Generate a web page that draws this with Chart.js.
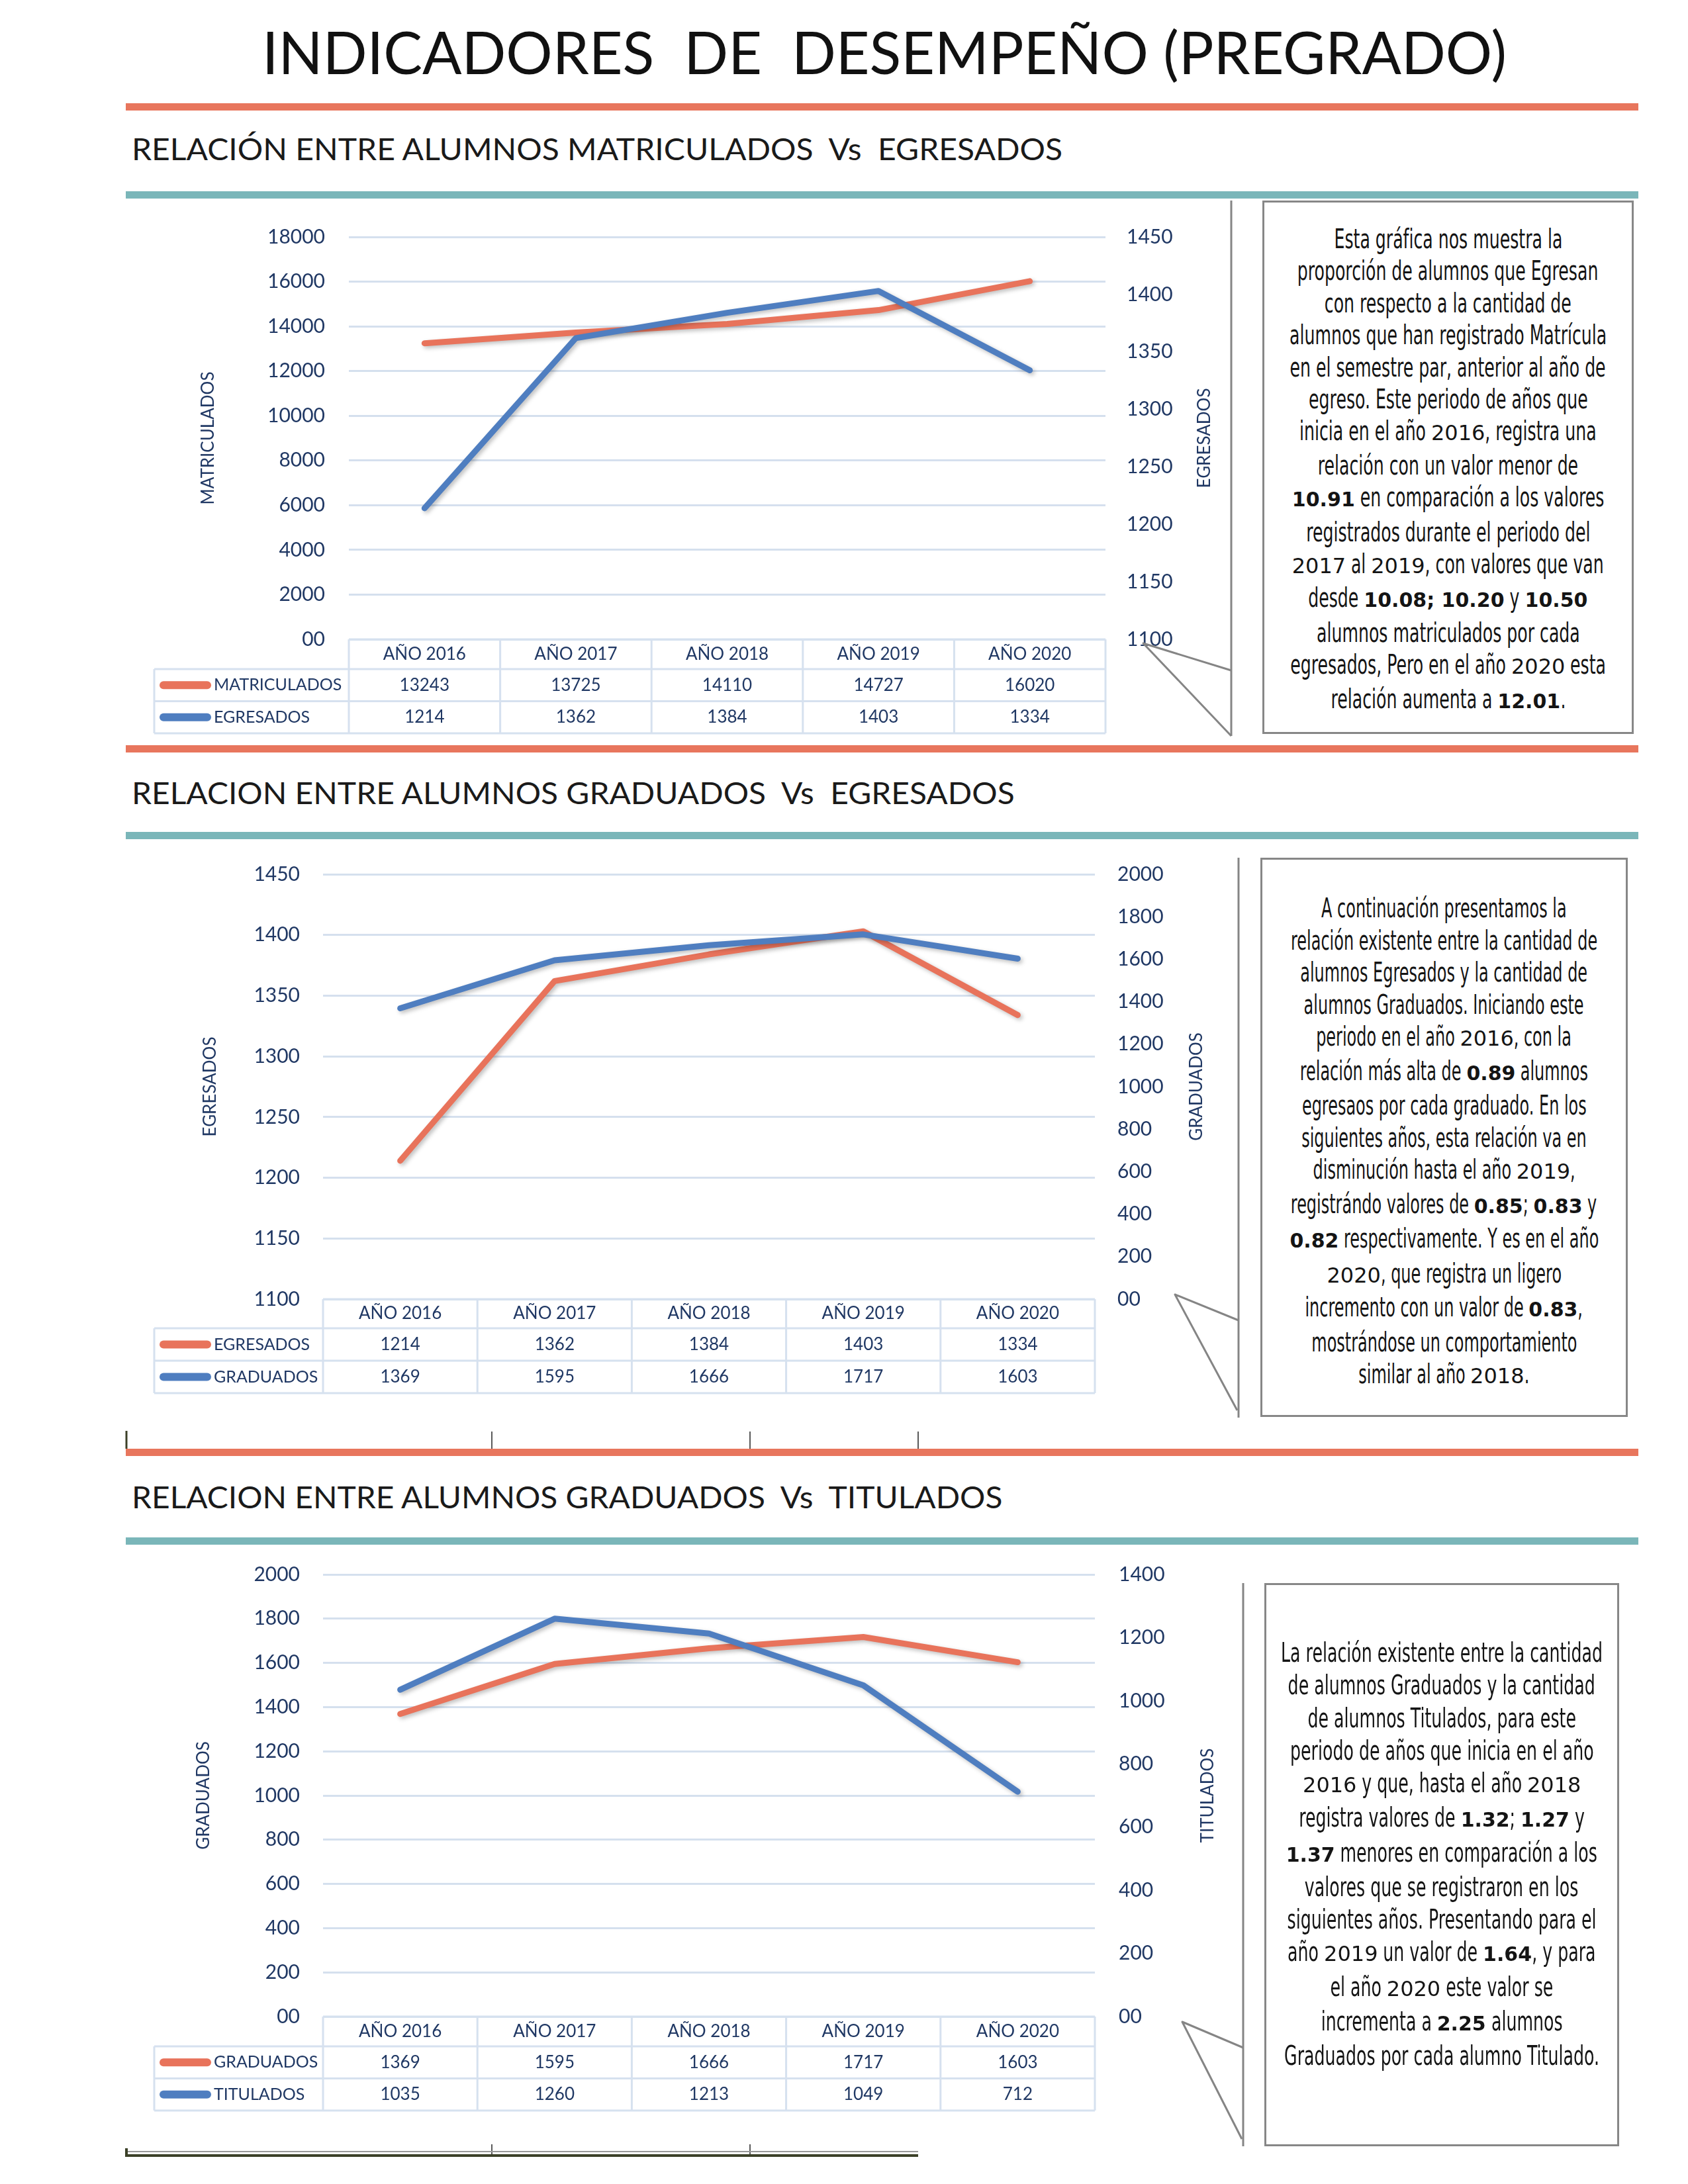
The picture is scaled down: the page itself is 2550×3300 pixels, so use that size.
<!DOCTYPE html>
<html lang="es">
<head>
<meta charset="utf-8">
<title>Indicadores de desempeño (pregrado)</title>
<script src="https://cdn.jsdelivr.net/npm/chart.js@4.4.1/dist/chart.umd.min.js"></script>
<style>
html, body { margin: 0; padding: 0; background: #fff; }
#page { position: relative; width: 2550px; height: 3300px; overflow: hidden; font-family: Lato, "Open Sans", sans-serif; }
.title, .head { position: absolute; white-space: pre; transform-origin: 0 0; }
.title { left: 396px; top: 33px; font-size: 89px; line-height: 89px; color: #111; }
.head { left: 199px; font-size: 47px; line-height: 47px; color: #1a1a1a; }
.bar { position: absolute; left: 190px; width: 2285px; height: 11px; }
.orange { background: #e8765d; }
.teal { background: #7ab6b9; }
canvas { position: absolute; left: 200px; }
.box { position: absolute; border: 3px solid #878787; box-sizing: border-box; background: #fff; }
.txt { position: absolute; left: -400px; right: -400px; text-align: center; font-family: "DejaVu Sans", sans-serif; font-size: 40px; color: #141414; }
.ln { display: inline-block; white-space: pre; transform-origin: 50% 50%; }
.ln b, .ln i { display: inline-block; font-style: normal; }
.ln b { font-weight: bold; font-size: 30px; }
.ln i { font-size: 32px; }
svg { position: absolute; left: 0; top: 0; }
</style>
</head>
<body>
<div id="page">
  <div class="title" data-w="1880">INDICADORES  DE  DESEMPEÑO (PREGRADO)</div>
  <div class="bar orange" style="top:156px"></div>
  <div class="head" style="top:201px" data-w="1406">RELACIÓN ENTRE ALUMNOS MATRICULADOS  Vs  EGRESADOS</div>
  <div class="bar teal" style="top:289px"></div>

  <div class="bar orange" style="top:1126px"></div>
  <div class="head" style="top:1174px" data-w="1334">RELACION ENTRE ALUMNOS GRADUADOS  Vs  EGRESADOS</div>
  <div class="bar teal" style="top:1257px"></div>

  <div class="bar orange" style="top:2189px"></div>
  <div class="head" style="top:2238px" data-w="1315">RELACION ENTRE ALUMNOS GRADUADOS  Vs  TITULADOS</div>
  <div class="bar teal" style="top:2323px"></div>

  <canvas id="chart1"></canvas>
  <canvas id="chart2"></canvas>
  <canvas id="chart3"></canvas>

  <svg width="2550" height="3300">
    <g stroke="#858585" stroke-width="3" fill="none" stroke-linejoin="round">
      <line x1="1860" y1="303" x2="1860" y2="1112"/>
      <polyline points="1860,1013 1727,972 1860,1112"/>
      <line x1="1871" y1="1296" x2="1871" y2="2142"/>
      <polyline points="1871,1995 1775,1956 1869,2131"/>
      <line x1="1878" y1="2392" x2="1878" y2="3243"/>
      <polyline points="1878,3094 1786,3055 1876,3232"/>
    </g>
    <g stroke="#222" stroke-width="1.5">
      <line x1="743" y1="2163" x2="743" y2="2189"/>
      <line x1="1133" y1="2163" x2="1133" y2="2189"/>
      <line x1="1387" y1="2163" x2="1387" y2="2189"/>
      <line x1="743" y1="3240" x2="743" y2="3256"/>
      <line x1="1133" y1="3240" x2="1133" y2="3256"/>
    </g>
    <line x1="191" y1="2162" x2="191" y2="2189" stroke="#3c4128" stroke-width="3"/>
    <line x1="190" y1="3251" x2="1387" y2="3251" stroke="#999" stroke-width="2"/>
    <line x1="190" y1="3257" x2="1387" y2="3257" stroke="#3c4128" stroke-width="4"/>
    <line x1="191" y1="3246" x2="191" y2="3259" stroke="#3c4128" stroke-width="4"/>
  </svg>

  <div class="box" style="left:1907px;top:303px;width:561px;height:806px">
    <div class="txt" style="top:31px;line-height:48.4px">
      <div><span class="ln">Esta gráfica nos muestra la</span></div>
      <div><span class="ln">proporción de alumnos que Egresan</span></div>
      <div><span class="ln">con respecto a la cantidad de</span></div>
      <div><span class="ln" data-w="479">alumnos que han registrado Matrícula</span></div>
      <div><span class="ln">en el semestre par, anterior al año de</span></div>
      <div><span class="ln">egreso. Este periodo de años que</span></div>
      <div><span class="ln">inicia en el año <i>2016</i>, registra una</span></div>
      <div><span class="ln">relación con un valor menor de</span></div>
      <div><span class="ln"><b>10.91</b> en comparación a los valores</span></div>
      <div><span class="ln">registrados durante el periodo del</span></div>
      <div><span class="ln"><i>2017</i> al <i>2019</i>, con valores que van</span></div>
      <div><span class="ln">desde <b>10.08; 10.20</b> y <b>10.50</b></span></div>
      <div><span class="ln">alumnos matriculados por cada</span></div>
      <div><span class="ln">egresados, Pero en el año <i>2020</i> esta</span></div>
      <div><span class="ln">relación aumenta a <b>12.01</b>.</span></div>
    </div>
  </div>

  <div class="box" style="left:1904px;top:1296px;width:555px;height:845px">
    <div class="txt" style="top:49px;line-height:48.5px">
      <div><span class="ln">A continuación presentamos la</span></div>
      <div><span class="ln" data-w="463">relación existente entre la cantidad de</span></div>
      <div><span class="ln">alumnos Egresados y la cantidad de</span></div>
      <div><span class="ln">alumnos Graduados. Iniciando este</span></div>
      <div><span class="ln">periodo en el año <i>2016</i>, con la</span></div>
      <div><span class="ln">relación más alta de <b>0.89</b> alumnos</span></div>
      <div><span class="ln">egresaos por cada graduado. En los</span></div>
      <div><span class="ln">siguientes años, esta relación va en</span></div>
      <div><span class="ln">disminución hasta el año <i>2019</i>,</span></div>
      <div><span class="ln">registrándo valores de <b>0.85</b>; <b>0.83</b> y</span></div>
      <div><span class="ln"><b>0.82</b> respectivamente. Y es en el año</span></div>
      <div><span class="ln"><i>2020</i>, que registra un ligero</span></div>
      <div><span class="ln">incremento con un valor de <b>0.83</b>,</span></div>
      <div><span class="ln">mostrándose un comportamiento</span></div>
      <div><span class="ln">similar al año <i>2018</i>.</span></div>
    </div>
  </div>

  <div class="box" style="left:1910px;top:2392px;width:536px;height:851px">
    <div class="txt" style="top:78px;line-height:49.25px">
      <div><span class="ln" data-w="486">La relación existente entre la cantidad</span></div>
      <div><span class="ln">de alumnos Graduados y la cantidad</span></div>
      <div><span class="ln">de alumnos Titulados, para este</span></div>
      <div><span class="ln">periodo de años que inicia en el año</span></div>
      <div><span class="ln"><i>2016</i> y que, hasta el año <i>2018</i></span></div>
      <div><span class="ln">registra valores de <b>1.32</b>; <b>1.27</b> y</span></div>
      <div><span class="ln"><b>1.37</b> menores en comparación a los</span></div>
      <div><span class="ln">valores que se registraron en los</span></div>
      <div><span class="ln">siguientes años. Presentando para el</span></div>
      <div><span class="ln">año <i>2019</i> un valor de <b>1.64</b>, y para</span></div>
      <div><span class="ln">el año <i>2020</i> este valor se</span></div>
      <div><span class="ln">incrementa a <b>2.25</b> alumnos</span></div>
      <div><span class="ln">Graduados por cada alumno Titulado.</span></div>
    </div>
  </div>
</div>

<script>
// datos
const years = ["AÑO 2016", "AÑO 2017", "AÑO 2018", "AÑO 2019", "AÑO 2020"];
const matriculados = [13243, 13725, 14110, 14727, 16020];
const egresados = [1214, 1362, 1384, 1403, 1334];
const graduados = [1369, 1595, 1666, 1717, 1603];
const titulados = [1035, 1260, 1213, 1049, 712];

// rangos de ejes [min, max, paso]
const axMatriculados = [0, 18000, 2000];
const axEgresados = [1100, 1450, 50];
const axGraduados = [0, 2000, 200];
const axTitulados = [0, 1400, 200];

const ORANGE = "#e8735b";
const BLUE = "#4f7ec0";
const NAVY = "#203864";
const GRID = "#d5e0ee";
const TOP_PAD = 70; // espacio sobre el área del gráfico dentro del canvas

// sombra suave de las líneas
const shadowPlugin = {
  id: "lineShadow",
  beforeDatasetDraw(chart) {
    const c = chart.ctx;
    c.save();
    c.shadowColor = "rgba(0,0,0,0.25)";
    c.shadowBlur = 6;
    c.shadowOffsetX = 3;
    c.shadowOffsetY = 3;
  },
  afterDatasetDraw(chart) { chart.ctx.restore(); }
};

// tabla de datos bajo el gráfico + título del eje derecho
const tablePlugin = {
  id: "dataTable",
  afterDraw(chart, args, o) {
    const { ctx, chartArea: a } = chart;
    const x = chart.scales.x;
    const half = (x.getPixelForValue(1) - x.getPixelForValue(0)) / 2;
    const sets = chart.data.datasets;
    const y0 = a.bottom, y1 = y0 + o.headerH, yEnd = y1 + o.rowH * sets.length;
    ctx.save();
    ctx.strokeStyle = "#d6e1ef";
    ctx.lineWidth = 3;
    ctx.beginPath();
    ctx.moveTo(a.left, y0); ctx.lineTo(a.right, y0);
    for (let r = 0; r <= sets.length; r++) {
      ctx.moveTo(o.left, y1 + r * o.rowH); ctx.lineTo(a.right, y1 + r * o.rowH);
    }
    ctx.moveTo(o.left, y1); ctx.lineTo(o.left, yEnd);
    chart.data.labels.forEach((l, i) => {
      const e = x.getPixelForValue(i) - half;
      ctx.moveTo(e, y0); ctx.lineTo(e, yEnd);
    });
    const last = x.getPixelForValue(chart.data.labels.length - 1) + half;
    ctx.moveTo(last, y0); ctx.lineTo(last, yEnd);
    ctx.stroke();

    ctx.fillStyle = NAVY;
    ctx.textBaseline = "middle";
    ctx.textAlign = "center";
    ctx.font = "26px Lato";
    chart.data.labels.forEach((l, i) => {
      ctx.fillText(l, x.getPixelForValue(i), (y0 + y1) / 2);
    });
    sets.forEach((ds, r) => {
      const cy = y1 + o.rowH * (r + 0.5);
      ctx.textAlign = "center";
      ctx.fillStyle = NAVY;
      ctx.font = "26px Lato";
      ds.data.forEach((v, i) => ctx.fillText(String(v), x.getPixelForValue(i), cy));
      ctx.strokeStyle = ds.borderColor;
      ctx.lineWidth = 12;
      ctx.lineCap = "round";
      ctx.beginPath();
      ctx.moveTo(o.left + 14, cy); ctx.lineTo(o.left + 80, cy);
      ctx.stroke();
      ctx.textAlign = "left";
      ctx.font = "25px Lato";
      ctx.fillText(ds.label, o.left + 90, cy);
    });

    ctx.translate(o.rightTitleX, (a.top + a.bottom) / 2);
    ctx.rotate(-Math.PI / 2);
    ctx.textAlign = "center";
    ctx.font = "26px Lato";
    ctx.fillText(o.rightTitle, 0, 0);
    ctx.restore();
  }
};

function lineChart(id, g, names, dataA, dataB, axA, axB) {
  const cv = document.getElementById(id);
  const W = 1660;
  const top = g.plotT - TOP_PAD;
  const H = g.plotB + g.headerH + 2 * g.rowH + 14 - top;
  cv.width = W;
  cv.height = H;
  cv.style.top = top + "px";
  const L = v => v - 200;
  const T = v => v - top;
  const padLeft = L(g.titleX) - 15.6;
  const fmt = v => (v === 0 ? "00" : String(v));
  const tickFont = { family: "Lato", size: 30 };

  return new Chart(cv.getContext("2d"), {
    type: "line",
    data: {
      labels: years,
      datasets: [
        { label: names[0], data: dataA, yAxisID: "y", borderColor: ORANGE, order: 2 },
        { label: names[1], data: dataB, yAxisID: "y1", borderColor: BLUE, order: 1 }
      ]
    },
    options: {
      responsive: false,
      animation: false,
      devicePixelRatio: 1,
      layout: { padding: { left: padLeft, top: T(g.plotT), right: 0, bottom: H - T(g.plotB) } },
      elements: {
        point: { radius: 0 },
        line: { tension: 0, borderWidth: 9, borderCapStyle: "round", borderJoinStyle: "round", fill: false }
      },
      plugins: {
        legend: { display: false },
        tooltip: { enabled: false },
        dataTable: { left: L(g.tableL), headerH: g.headerH, rowH: g.rowH, rightTitle: names[1], rightTitleX: L(g.rightTitleX) }
      },
      scales: {
        x: { display: false, offset: true },
        y: {
          position: "left",
          min: axA[0], max: axA[1],
          afterFit: s => { s.width = L(g.plotL) - padLeft; },
          ticks: { stepSize: axA[2], autoSkip: false, padding: g.plotL - g.tickR, color: NAVY, font: tickFont, callback: fmt },
          grid: { color: GRID, lineWidth: 3, drawTicks: false },
          border: { display: false },
          title: { display: true, text: names[0], color: NAVY, font: { family: "Lato", size: 26 }, padding: 0 }
        },
        y1: {
          position: "right",
          min: axB[0], max: axB[1],
          afterFit: s => { s.width = W - L(g.plotR); },
          ticks: { stepSize: axB[2], autoSkip: false, padding: g.tickL - g.plotR, color: NAVY, font: tickFont, callback: fmt },
          grid: { display: false, drawTicks: false },
          border: { display: false }
        }
      }
    },
    plugins: [shadowPlugin, tablePlugin]
  });
}

lineChart("chart1",
  { plotL: 527, plotR: 1670, plotT: 358, plotB: 966, tableL: 233, headerH: 45, rowH: 48.5, titleX: 315, tickR: 491, tickL: 1702, rightTitleX: 1820 },
  ["MATRICULADOS", "EGRESADOS"], matriculados, egresados, axMatriculados, axEgresados);

lineChart("chart2",
  { plotL: 488, plotR: 1654, plotT: 1321, plotB: 1963, tableL: 233, headerH: 44, rowH: 49, titleX: 318, tickR: 453, tickL: 1688, rightTitleX: 1808 },
  ["EGRESADOS", "GRADUADOS"], egresados, graduados, axEgresados, axGraduados);

lineChart("chart3",
  { plotL: 488, plotR: 1654, plotT: 2379, plotB: 3047, tableL: 233, headerH: 45, rowH: 48.5, titleX: 308, tickR: 453, tickL: 1690, rightTitleX: 1825 },
  ["GRADUADOS", "TITULADOS"], graduados, titulados, axGraduados, axTitulados);

// ajustar anchos de textos al original
function fitText() {
  document.querySelectorAll(".title, .head").forEach(el => {
    el.style.transform = "scaleX(" + (+el.dataset.w / el.offsetWidth) + ")";
  });
  document.querySelectorAll(".box").forEach(box => {
    const ref = box.querySelector(".ln[data-w]");
    const s = +ref.dataset.w / ref.offsetWidth;
    box.querySelectorAll(".ln").forEach(ln => {
      ln.querySelectorAll("b, i").forEach(sp => {
        const w = sp.offsetWidth;
        sp.style.transform = "scaleX(" + (1 / s) + ")";
        sp.style.margin = "0 " + (w * (1 - s) / (2 * s)) + "px";
      });
      ln.style.transform = "scaleX(" + s + ")";
    });
  });
}
if (document.fonts && document.fonts.ready) document.fonts.ready.then(fitText); else fitText();
</script>
</body>
</html>
